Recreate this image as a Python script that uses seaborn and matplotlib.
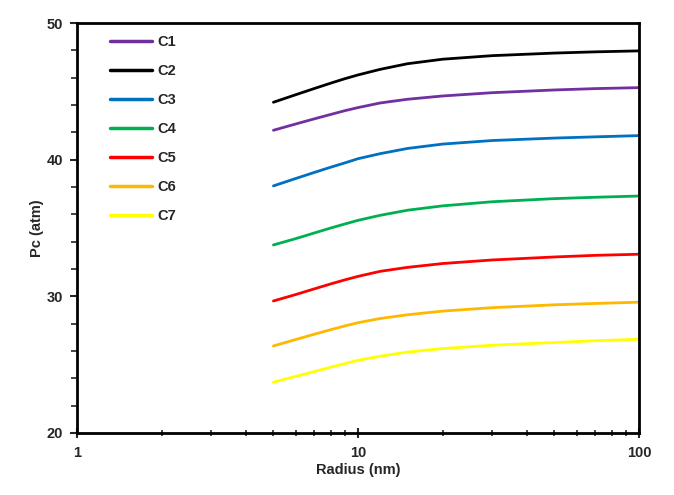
import matplotlib
matplotlib.use("Agg")
import matplotlib.pyplot as plt
import matplotlib.ticker as mticker
import seaborn as sns
import pandas as pd
import numpy as np

radius = [5, 6, 7, 8, 9, 10, 12, 15, 20, 30, 50, 70, 100]
c1 = [42.15, 42.61, 42.99, 43.31, 43.59, 43.81, 44.15, 44.42, 44.66, 44.90, 45.10, 45.20, 45.27]
c2 = [44.20, 44.75, 45.21, 45.60, 45.93, 46.20, 46.61, 47.02, 47.35, 47.61, 47.80, 47.89, 47.96]
c3 = [38.08, 38.62, 39.07, 39.45, 39.77, 40.07, 40.44, 40.82, 41.14, 41.40, 41.58, 41.67, 41.76]
c4 = [33.76, 34.22, 34.64, 35.00, 35.30, 35.56, 35.93, 36.30, 36.62, 36.92, 37.15, 37.25, 37.34]
c5 = [29.66, 30.13, 30.55, 30.91, 31.21, 31.46, 31.83, 32.12, 32.40, 32.66, 32.88, 33.00, 33.08]
c6 = [26.37, 26.84, 27.23, 27.56, 27.84, 28.07, 28.38, 28.65, 28.92, 29.17, 29.38, 29.48, 29.57]
c7 = [23.72, 24.14, 24.50, 24.82, 25.08, 25.32, 25.62, 25.92, 26.18, 26.42, 26.62, 26.75, 26.86]

series_names = ["C1", "C2", "C3", "C4", "C5", "C6", "C7"]
series_values = [c1, c2, c3, c4, c5, c6, c7]
colors = ["#7030A0", "#000000", "#0070C0", "#00B050", "#FF0000", "#FFB800", "#FFFF00"]

x_ticks = [1, 10, 100]
x_tick_labels = ["1", "10", "100"]
y_ticks = [20, 30, 40, 50]

rows = []
for name, vals in zip(series_names, series_values):
    for r, v in zip(radius, vals):
        rows.append({"Radius": r, "Pc": v, "Series": name})
df = pd.DataFrame(rows)

sns.set_style("white")
plt.rcParams['font.family'] = ['Liberation Sans', 'DejaVu Sans']
plt.rcParams['font.weight'] = 'bold'

fig = plt.figure(figsize=(6.74, 4.95), dpi=100)
ax = fig.add_axes([77/674, 1-433/495, (639-77)/674, (433-23)/495])

sns.lineplot(data=df, x="Radius", y="Pc", hue="Series", hue_order=series_names,
             palette=colors, linewidth=2.0, ax=ax, legend=True)
for ln in ax.get_lines():
    ln.set_solid_joinstyle("round")

ax.set_xscale("log")
ax.set_xlim(1, 100)
ax.set_ylim(20, 50)
ax.set_xticks(x_ticks)
ax.set_xticklabels(x_tick_labels)
ax.xaxis.set_minor_locator(mticker.LogLocator(base=10, subs=np.arange(2, 10)))
ax.xaxis.set_minor_formatter(mticker.NullFormatter())
ax.set_yticks(y_ticks)
ax.yaxis.set_minor_locator(mticker.MultipleLocator(2))

for s in ax.spines.values():
    s.set_linewidth(2.0)
    s.set_color("black")

ax.tick_params(axis="x", which="major", direction="inout", length=7, width=1.5,
               labelsize=10.5, pad=6, bottom=True, top=False)
ax.tick_params(axis="x", which="minor", direction="inout", length=4, width=1.2,
               bottom=True, top=False)
ax.tick_params(axis="y", which="major", direction="out", length=5, width=1.5,
               labelsize=10.5, pad=5, left=True, right=False)
ax.tick_params(axis="y", which="minor", direction="out", length=4, width=1.2,
               left=True, right=False)
for lab in ax.get_xticklabels() + ax.get_yticklabels():
    lab.set_fontweight("bold")

ax.set_xlabel("Radius (nm)", fontsize=10.5, fontweight="bold", labelpad=2)
ax.set_ylabel("Pc (atm)", fontsize=10.5, fontweight="bold", labelpad=2)

leg = ax.legend(loc="upper left", bbox_to_anchor=(33/562, 1-12/410), frameon=False,
                fontsize=10.5, handlelength=2.9, handletextpad=0.35, labelspacing=1.03,
                borderpad=0, borderaxespad=0)
for t in leg.get_texts():
    t.set_fontweight("bold")
for h in leg.get_lines():
    h.set_linewidth(2.5)

fig.savefig("out.png", dpi=100)
